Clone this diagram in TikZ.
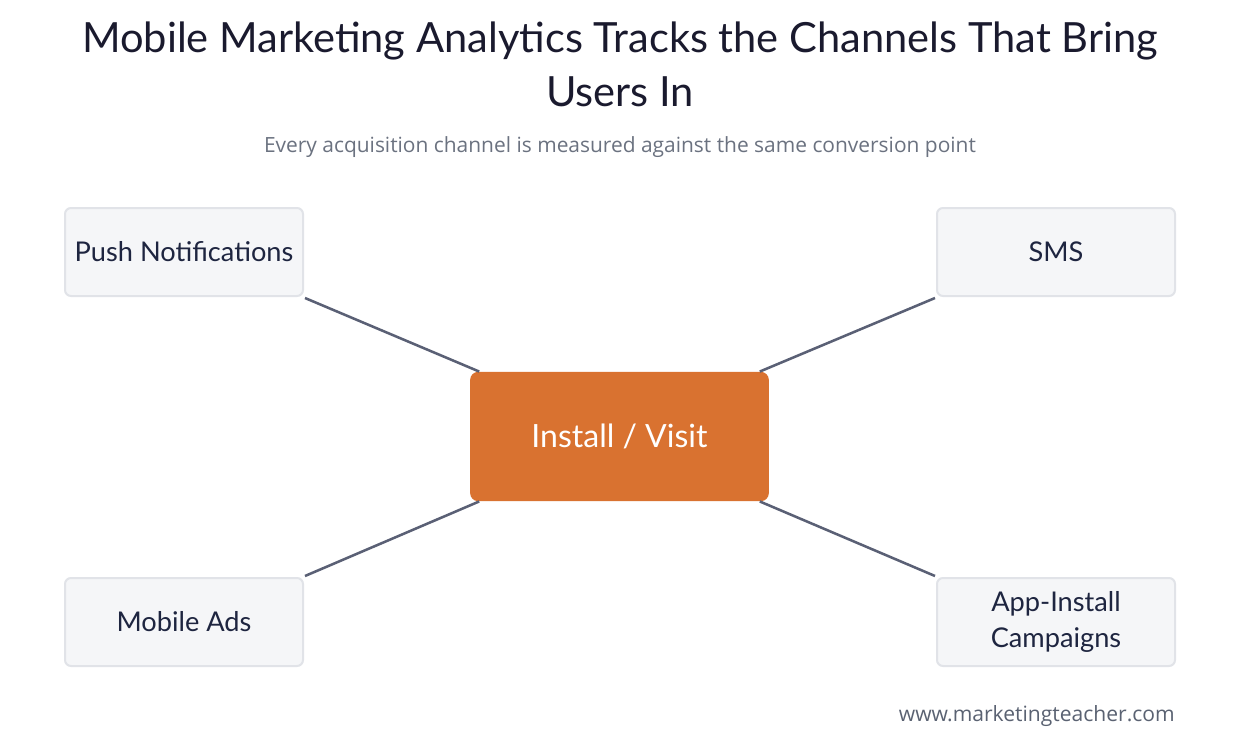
\documentclass[tikz,border=0pt]{standalone}
\usepackage{fontspec}
\setmainfont{Lato}
\newfontfamily\subfont{Open Sans}
\definecolor{boxfill}{HTML}{F5F6F8}
\definecolor{boxdraw}{HTML}{E1E3E8}
\definecolor{boxtext}{HTML}{1E2540}
\definecolor{hub}{HTML}{D97230}
\definecolor{link}{HTML}{5A6075}
\definecolor{titlec}{HTML}{1A1A2E}
\definecolor{subc}{HTML}{6B7280}
\definecolor{footc}{HTML}{5A6272}
\tikzset{
  chan/.style={draw=boxdraw, line width=1.5pt, fill=boxfill, rounded corners=4.5pt,
    minimum width=178.5pt, minimum height=66pt, inner sep=0pt, align=center,
    text=boxtext, font=\fontsize{20.4}{27.5}\selectfont},
  hubbox/.style={fill=hub, rounded corners=6pt, minimum width=224pt, minimum height=97pt,
    inner sep=0pt, text=white, font=\fontsize{24}{28}\selectfont},
  conn/.style={draw=link, line width=1.9pt}
}
\begin{document}
\begin{tikzpicture}[x=0.75pt,y=-0.75pt]
\useasboundingbox (0,0) rectangle (1240,747);
\fill[white] (0,0) rectangle (1240,747);
\node[text=titlec, align=center, font=\fontsize{31.2}{40.5}\selectfont] (title) at (620,64)
  {Mobile Marketing Analytics Tracks the Channels That Bring\\Users In};
\node[text=subc, font=\subfont\fontsize{15.7}{18}\selectfont] (sub) at (620,147)
  {Every acquisition channel is measured against the same conversion point};
\node[chan] (push) at (184,252) {Push Notifications};
\node[chan] (sms) at (1056,252) {SMS};
\node[chan] (ads) at (184,622) {Mobile Ads};
\node[chan] (app) at (1056,622) {App-Install\\Campaigns};
\node[hubbox] (hubn) at (619.5,436.5) {Install / Visit};
\draw[conn] ([shift={(1,1)}]push.south east) -- ([xshift=7]hubn.north west);
\draw[conn] ([shift={(-1,1)}]sms.south west) -- ([xshift=-7]hubn.north east);
\draw[conn] ([shift={(1,-1)}]ads.north east) -- ([xshift=7]hubn.south west);
\draw[conn] ([shift={(-1,-1)}]app.north west) -- ([xshift=-7]hubn.south east);
\node[text=footc, anchor=east, inner sep=0pt, font=\subfont\fontsize{15.8}{18}\selectfont] (foot) at (1175,716)
  {www.marketingteacher.com};
\end{tikzpicture}
\end{document}
